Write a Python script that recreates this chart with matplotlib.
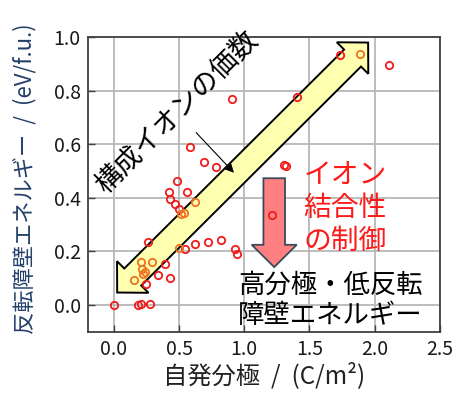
import numpy as np
import matplotlib
matplotlib.use('Agg')
import matplotlib.pyplot as plt
from matplotlib.patches import Polygon
from matplotlib.transforms import IdentityTransform

plt.rcParams['font.family'] = ['Noto Sans CJK JP', 'DejaVu Sans']

# 読み取った値 (自発分極 C/m2, 反転障壁 eV/f.u.)
red_x = [0.0, 0.186, 0.212, 0.275, 0.248, 0.428, 0.336, 0.395, 0.26, 0.543,
         0.62, 0.722, 0.823, 0.93, 0.948, 1.216, 0.5, 0.472, 0.428, 0.42,
         0.561, 0.485, 0.693, 0.783, 1.305, 1.32, 0.581, 0.91, 1.407, 1.733, 2.108]
red_y = [0.0, 0.0, 0.003, 0.003, 0.077, 0.1, 0.112, 0.152, 0.233, 0.208,
         0.228, 0.234, 0.244, 0.208, 0.19, 0.336, 0.359, 0.377, 0.395, 0.42,
         0.42, 0.464, 0.533, 0.514, 0.523, 0.517, 0.589, 0.768, 0.778, 0.934, 0.897]
orange_x = [0.158, 0.225, 0.237, 0.217, 0.293, 0.212, 0.497, 0.518, 0.535, 0.625, 1.887]
orange_y = [0.091, 0.116, 0.124, 0.133, 0.159, 0.161, 0.212, 0.339, 0.343, 0.384, 0.938]

x_ticks = [0.0, 0.5, 1.0, 1.5, 2.0, 2.5]
y_ticks = [0.0, 0.2, 0.4, 0.6, 0.8, 1.0]

fig = plt.figure(figsize=(4.64, 4.0), dpi=100)
ax = fig.add_axes([0.189, 0.171, 0.759, 0.736])
ax.set_xlim(-0.2, 2.5)
ax.set_ylim(-0.1, 1.0)
ax.set_xticks(x_ticks)
ax.set_yticks(y_ticks)
ax.set_xticklabels([f'{v:.1f}' for v in x_ticks])
ax.set_yticklabels([f'{v:.1f}' for v in y_ticks])
ax.grid(True, color='#b8b8b8', lw=1.3)
ax.set_axisbelow(True)
for s in ax.spines.values():
    s.set_color('#404040')
    s.set_linewidth(1.3)
ax.tick_params(direction='in', length=5, width=1.0, color='#404040',
               labelsize=14, labelcolor='#1a1a1a', pad=5)

ax.set_xlabel('自発分極  /  (C/m²)', fontsize=17.5, color='#222222', labelpad=2)
ax.set_ylabel('反転障壁エネルギー  /  (eV/f.u.)', fontsize=16, color='#25406a')
ax.yaxis.set_label_coords(-0.145, 0.52)


def block_arrow(p0, p1, w, hw, hl, double=True):
    # 画面ピクセル座標で矢印の多角形を作る
    p0 = np.asarray(p0, float)
    p1 = np.asarray(p1, float)
    d = p1 - p0
    u = d / np.hypot(*d)
    n = np.array([-u[1], u[0]])
    pts = []
    if double:
        pts += [p0, p0 + u * hl + n * hw, p0 + u * hl + n * w]
    else:
        pts += [p0 + n * w]
    pts += [p1 - u * hl + n * w, p1 - u * hl + n * hw, p1,
            p1 - u * hl - n * hw, p1 - u * hl - n * w]
    if double:
        pts += [p0 + u * hl - n * w, p0 + u * hl - n * hw]
    else:
        pts += [p0 - n * w]
    return np.array(pts)


fig.canvas.draw()
td = ax.transData

# 黄色の両矢印
ya = block_arrow(td.transform((0.026, 0.046)), td.transform((1.95, 0.98)), 12, 22.3, 22)
ax.add_patch(Polygon(ya, closed=True, facecolor='#ffffb0', edgecolor='black',
                     lw=1.4, transform=IdentityTransform(), zorder=2))

# ピンクの下向き矢印
pa = block_arrow(td.transform((1.23, 0.473)), td.transform((1.23, 0.141)), 10.8, 22.5, 22.3,
                 double=False)
ax.add_patch(Polygon(pa, closed=True, facecolor='#ff8080', edgecolor='#3a4a5c',
                     lw=1.3, transform=IdentityTransform(), zorder=2))

ax.annotate('', xy=(0.936, 0.486), xytext=(0.617, 0.651),
            arrowprops=dict(arrowstyle='-|>', color='black', lw=0.8, mutation_scale=13),
            zorder=3)

ax.text(0.479, 0.719, '構成イオンの価数', fontsize=19.5, rotation=45,
        rotation_mode='anchor', ha='center', va='center', color='black', zorder=3)
ax.text(1.453, 0.361, 'イオン\n結合性\nの制御', fontsize=20, color='#ff1a1a',
        ha='left', va='center', linespacing=1.13, zorder=3)
ax.text(0.955, 0.018, '高分極・低反転\n障壁エネルギー', fontsize=19, color='black',
        ha='left', va='center', linespacing=1.15, zorder=3)

ax.plot(red_x, red_y, 'o', mfc='none', mec='#f01c1c', ms=5.3, mew=1.3, zorder=4)
ax.plot(orange_x, orange_y, 'o', mfc='none', mec='#ee7422', ms=5.3, mew=1.3, zorder=4)

fig.savefig('out.png', dpi=100)
